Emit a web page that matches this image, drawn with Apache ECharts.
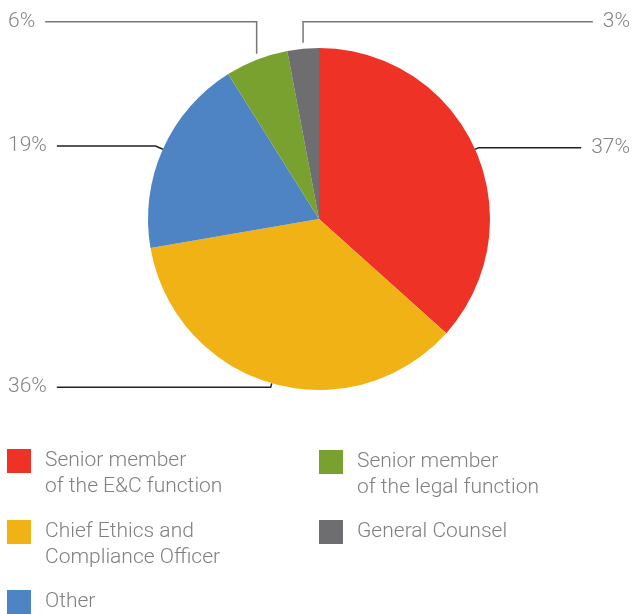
<!DOCTYPE html>
<html>
<head>
<meta charset="utf-8">
<script src="https://cdn.jsdelivr.net/npm/echarts@6/dist/echarts.min.js"></script>
<style>
  html, body { margin: 0; padding: 0; background: #fff; }
  #chart { width: 632px; height: 614px; }
</style>
</head>
<body>
<div id="chart"></div>
<script>
// slice names (line breaks as in the legend) and shares in %
const categories = [
  "Senior member\nof the E&C function",
  "Chief Ethics and\nCompliance Officer",
  "Other",
  "Senior member\nof the legal function",
  "General Counsel"
];
const shares = [37, 36, 19, 6, 3];

const colors = ["#ee3226", "#f0b215", "#4f84c4", "#78a130", "#6e6e70"];

const mychart = echarts.init(document.getElementById("chart"));

// label line tweaks per slice: [length, line colour, edgeDistance]
const lineCfg = [
  [4, "#222", 2],
  [4, "#222", 8],
  [8, "#222", 8],
  [41, "#777", 8],
  [27, "#777", 2]
];
// the two thin slices on top get an elbow line (riser height above the slice)
const risers = { 3: 38, 4: 27 };
const labelSide = { 3: "left", 4: "right" };

// one legend per item, laid out in two columns
const legendSpots = [
  { left: 7, top: 422 },
  { left: 7, top: 493 },
  { left: 7, top: 590 },
  { left: 319, top: 423 },
  { left: 319, top: 520 }
];

const legends = categories.map((name, i) => {
  const twoLines = name.indexOf("\n") >= 0;
  return {
    data: [name],
    left: legendSpots[i].left,
    top: legendSpots[i].top,
    padding: 0,
    icon: "rect",
    itemWidth: 24,
    itemHeight: 24,
    selectedMode: false,
    // blank first line so the first text line sits next to the square
    formatter: (n) => (twoLines ? "\n" + n : n),
    textStyle: {
      fontSize: 21,
      lineHeight: twoLines ? 26 : 24,
      fontFamily: "Roboto",
      fontWeight: 300,
      color: "#808080",
      padding: [0, 0, 0, 9]
    }
  };
});

mychart.setOption({
  color: colors,
  animation: false,
  legend: legends,
  series: [
    {
      type: "pie",
      center: [319, 219],
      radius: 171,
      startAngle: 90,
      clockwise: true,
      avoidLabelOverlap: true,
      label: {
        show: true,
        position: "outside",
        alignTo: "edge",
        edgeDistance: 8,
        distanceToLabelLine: 10,
        formatter: "{c}%",
        fontSize: 21,
        fontFamily: "Roboto",
        fontWeight: 300,
        color: "#858585"
      },
      labelLine: {
        show: true,
        length: 4,
        length2: 10,
        lineStyle: { color: "#222", width: 1.5 }
      },
      labelLayout: function (params) {
        const i = params.dataIndex;
        if (risers[i] == null || !params.labelLinePoints) return {};
        const p = params.labelLinePoints[0];
        const y = p[1] - risers[i];
        const w = params.labelRect.width;
        const W = mychart.getWidth();
        let x, end;
        if (labelSide[i] === "left") {
          x = 8;
          end = x + w + 10;
        } else {
          x = W - 2;
          end = x - w - 10;
        }
        return {
          x: x,
          y: y,
          align: labelSide[i],
          verticalAlign: "middle",
          labelLinePoints: [[p[0], p[1] - 6], [p[0], y], [end, y]]
        };
      },
      emphasis: { disabled: true },
      data: categories.map((name, i) => ({
        name: name,
        value: shares[i],
        label: { edgeDistance: lineCfg[i][2] },
        labelLine: {
          length: lineCfg[i][0],
          lineStyle: { color: lineCfg[i][1] }
        }
      }))
    }
  ]
});

window.onresize = function () {
  mychart.resize();
};
</script>
</body>
</html>
